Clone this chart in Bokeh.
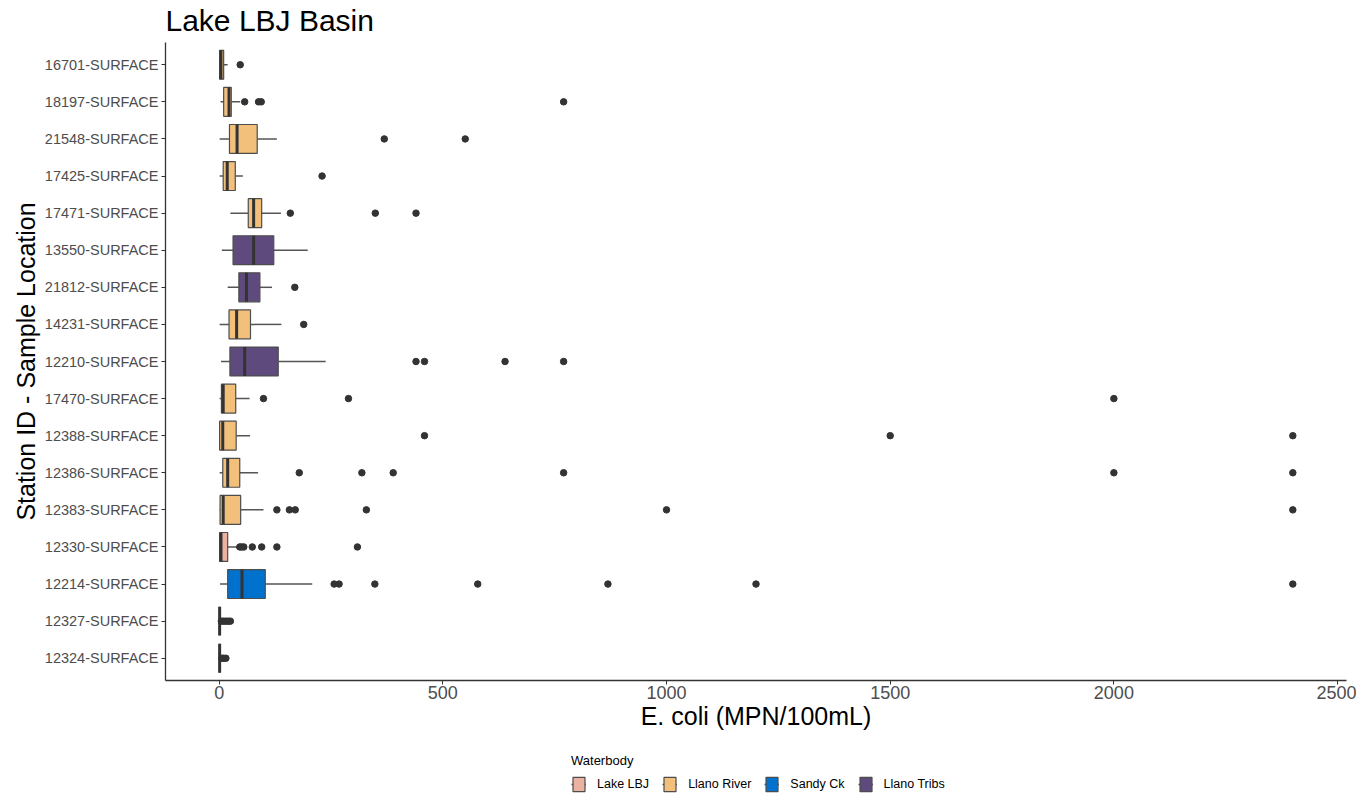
from bokeh.plotting import figure
from bokeh.layouts import column
from bokeh.models import ColumnDataSource, Legend, LegendItem, FactorRange, Range1d, FixedTicker
from bokeh.core.properties import value
from bokeh.embed import file_html
from bokeh.resources import INLINE

# ---- data (top to bottom as shown) ----
title_text = "Lake LBJ Basin"
stations = ["16701-SURFACE", "18197-SURFACE", "21548-SURFACE", "17425-SURFACE",
            "17471-SURFACE", "13550-SURFACE", "21812-SURFACE", "14231-SURFACE",
            "12210-SURFACE", "17470-SURFACE", "12388-SURFACE", "12386-SURFACE",
            "12383-SURFACE", "12330-SURFACE", "12214-SURFACE", "12327-SURFACE",
            "12324-SURFACE"]
waterbody = ["Llano River", "Llano River", "Llano River", "Llano River",
             "Llano River", "Llano Tribs", "Llano Tribs", "Llano River",
             "Llano Tribs", "Llano River", "Llano River", "Llano River",
             "Llano River", "Lake LBJ", "Sandy Ck", "Lake LBJ", "Lake LBJ"]
whisker_low = [1, 3, 1, 1, 25, 6, 19, 1, 4, 1, 1, 1, 1, 1, 2, 1, 1]
q1 = [1, 10, 23, 9, 65, 31, 44, 22, 24, 5, 1, 8, 2, 1, 19, 1, 1]
median = [4, 22, 40, 18, 77, 77, 61, 39, 57, 9, 8, 19, 9, 4, 51, 1, 1]
q3 = [10, 27, 85, 36, 95, 122, 91, 70, 132, 37, 38, 46, 48, 19, 103, 1, 1]
whisker_high = [19, 47, 129, 53, 138, 198, 118, 139, 238, 68, 69, 87, 99, 42, 208, 1, 1]
outliers = [
    [47],
    [57, 88, 94, 770],
    [369, 550],
    [230],
    [159, 349, 440],
    [],
    [169],
    [189],
    [440, 459, 639, 770],
    [99, 289, 2000],
    [459, 1500, 2400],
    [179, 319, 389, 770, 2000, 2400],
    [129, 157, 170, 329, 1000, 2400],
    [46, 50, 55, 74, 95, 129, 309],
    [257, 268, 348, 578, 869, 1200, 2400],
    [5, 10, 15, 20, 25],
    [6, 10, 15],
]
groups = ["Lake LBJ", "Llano River", "Sandy Ck", "Llano Tribs"]
group_colors = ["#EBB2A2", "#F3C07C", "#0072CE", "#5E4A7D"]
x_ticks = [0, 500, 1000, 1500, 2000, 2500]

FONT = "Liberation Sans"
W = 1356


def strip(h, xr, yr):
    f = figure(width=W, height=h, x_range=xr, y_range=yr,
               output_backend="svg", toolbar_location=None,
               x_axis_type=None, y_axis_type=None,
               min_border_left=165, min_border_right=10,
               min_border_top=0, min_border_bottom=0)
    f.xgrid.visible = False
    f.ygrid.visible = False
    f.outline_line_color = None
    return f


# ---- title strip ----
tf = strip(42, Range1d(0, 1), Range1d(0, 42))
tf.text(x=[0], y=[22], text=[title_text], text_font=value(FONT), text_font_size="30px",
        text_color="#000000", text_baseline="alphabetic", text_align="left")

# ---- main chart ----
p = figure(width=W, height=698,
           y_range=FactorRange(factors=stations[::-1], range_padding=0.1,
                               range_padding_units="absolute"),
           x_range=Range1d(-120, 2520),
           output_backend="svg", toolbar_location=None,
           min_border_left=165, min_border_right=10,
           min_border_top=0, min_border_bottom=60)
p.xgrid.visible = False
p.ygrid.visible = False
p.outline_line_color = None

# ---- legend strip (hidden copies of the glyphs provide the legend keys) ----
lf = strip(61, Range1d(0, 1), FactorRange(factors=stations[::-1]))

legend_items = []
for g, col in zip(groups, group_colors):
    idx = [i for i, w in enumerate(waterbody) if w == g]
    src = ColumnDataSource(dict(
        station=[stations[i] for i in idx],
        lo=[whisker_low[i] for i in idx],
        q1=[q1[i] for i in idx],
        med=[median[i] for i in idx],
        q3=[q3[i] for i in idx],
        hi=[whisker_high[i] for i in idx],
    ))
    for fig in (p, lf):
        w1 = fig.segment(x0="lo", y0="station", x1="q1", y1="station", source=src,
                         line_color="#555555", line_width=1.5)
        w2 = fig.segment(x0="q3", y0="station", x1="hi", y1="station", source=src,
                         line_color="#555555", line_width=1.5)
        box = fig.hbar(y="station", left="q1", right="q3", height=0.78, source=src,
                       fill_color=col, line_color="#4d4d4d", line_width=1.2)
        med = fig.rect(x="med", y="station", width=3, width_units="screen", height=0.78,
                       source=src, fill_color="#333333", line_color=None)
        if fig is lf:
            for r in (w1, w2, box, med):
                r.visible = False
    legend_items.append(LegendItem(label=g, renderers=[w1, box]))

ox, oy = [], []
for s, vals in zip(stations, outliers):
    for v in vals:
        ox.append(v)
        oy.append(s)
p.scatter(x=ox, y=oy, size=6.5, fill_color="#333333", line_color="#333333")

# axes
for ax in (p.xaxis[0], p.yaxis[0]):
    ax.axis_line_color = "#333333"
    ax.axis_line_width = 1.3
    ax.major_tick_line_color = "#333333"
    ax.major_tick_out = 4
    ax.major_tick_in = 0
    ax.minor_tick_line_color = None
    ax.major_label_text_font = FONT
    ax.major_label_text_color = "#4d4d4d"
    ax.axis_label_text_font = FONT
    ax.axis_label_text_font_style = "normal"
    ax.axis_label_text_color = "#000000"
    ax.axis_label_text_font_size = "25px"

p.xaxis.ticker = FixedTicker(ticks=x_ticks)
p.xaxis.major_label_text_font_size = "18px"
p.xaxis.major_label_standoff = 1
p.xaxis.axis_label = "E. coli (MPN/100mL)"
p.xaxis.axis_label_standoff = 0

p.yaxis.major_label_text_font_size = "14.5px"
p.yaxis.major_label_standoff = 3
p.yaxis.axis_label = "Station ID - Sample Location"
p.yaxis.axis_label_standoff = 2

legend = Legend(items=legend_items, orientation="horizontal", location=(406, 8),
                title="Waterbody")
legend.title_text_font = FONT
legend.title_text_font_size = "13px"
legend.title_text_font_style = "normal"
legend.title_text_color = "#000000"
legend.title_standoff = 7
legend.label_text_font = FONT
legend.label_text_font_size = "12.5px"
legend.label_text_color = "#000000"
legend.glyph_width = 15
legend.glyph_height = 18
legend.label_standoff = 11
legend.spacing = 13
legend.padding = 0
legend.margin = 0
legend.border_line_color = None
legend.background_fill_alpha = 0
lf.add_layout(legend, "center")

layout = column(tf, p, lf, spacing=0)
open("out.html", "w").write(file_html(layout, INLINE))
